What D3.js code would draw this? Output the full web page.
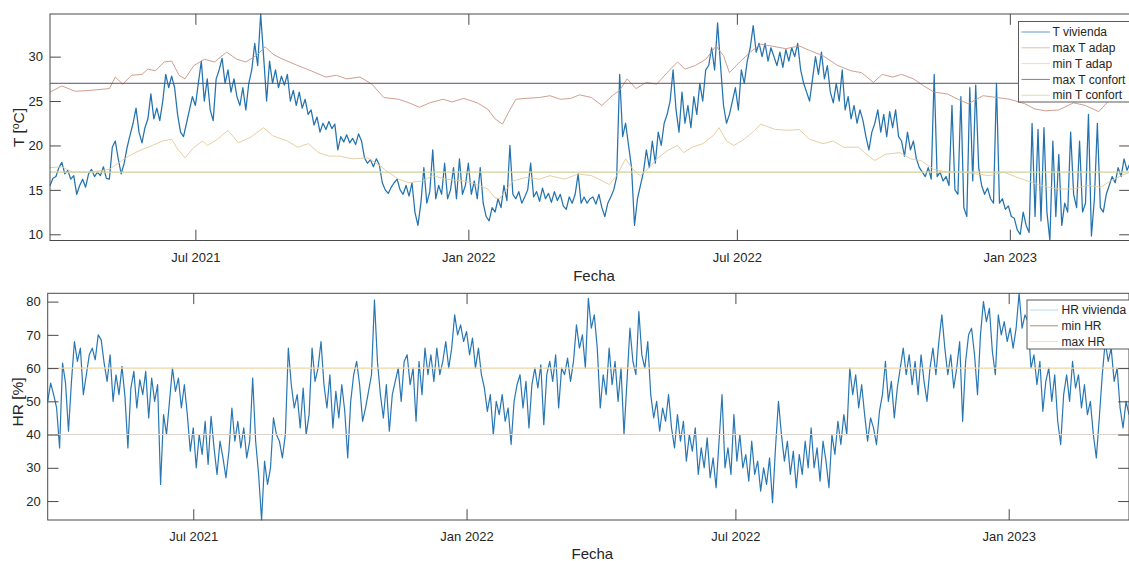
<!DOCTYPE html>
<html>
<head>
<meta charset="utf-8">
<script src="https://cdn.jsdelivr.net/npm/d3@7"></script>
<style>
  body { margin: 0; background: #fff; }
  svg { display: block; }
  text { font-family: "Liberation Sans", Arial, Helvetica, sans-serif; fill: #262626; }
</style>
</head>
<body>
<svg id="chart" width="1129" height="561"></svg>
<script>
// Series sampled every 2 days from 25 Mar 2021
const startDate = new Date(2021, 2, 25);
const stepDays = 2;

// Indoor temperature (°C)
const tVivienda = [
  15.5,16.3,16.5,17.5,18.1,16.8,17.2,16.2,16.6,14.5,
  15.5,16.2,15.3,16.8,17.3,16.5,17.0,16.6,17.6,16.3,
  16.2,19.8,20.5,18.5,16.8,18.0,19.8,21.2,22.5,24.2,
  21.5,20.3,22.0,23.0,25.8,23.0,24.2,22.8,25.0,28.0,
  26.5,27.8,26.5,23.5,21.5,21.0,22.5,24.0,25.5,24.5,
  27.0,29.5,25.0,27.5,24.0,22.8,27.5,28.5,29.8,27.0,
  28.5,26.0,27.5,25.5,24.5,26.5,24.0,27.0,28.5,31.5,
  29.0,34.8,30.0,25.0,29.5,27.0,28.5,26.5,27.8,26.8,
  28.0,25.0,26.2,24.5,26.0,24.2,25.2,23.5,24.0,22.3,
  23.2,21.5,22.5,21.8,22.7,21.9,22.4,19.5,21.0,20.4,
  21.2,20.3,20.8,20.1,21.3,20.5,18.6,18.0,18.4,17.6,
  18.5,17.8,15.8,15.0,14.6,15.3,15.8,16.2,15.0,14.5,
  15.5,14.3,15.8,12.5,11.0,13.5,17.5,13.5,14.8,19.5,
  14.0,15.5,14.5,18.0,14.0,15.0,17.5,14.0,18.5,14.5,
  15.5,18.0,14.5,16.0,14.0,17.5,13.5,12.0,11.5,13.0,
  12.5,14.0,13.0,15.5,13.8,20.0,14.5,14.0,14.8,13.5,
  14.2,15.0,18.0,14.2,14.8,13.7,15.2,14.0,14.6,13.6,
  14.8,13.8,14.5,13.2,12.8,14.2,13.5,14.5,16.8,13.5,
  14.2,13.5,14.0,14.2,13.4,14.5,13.0,12.0,13.5,14.2,
  15.0,16.5,28.0,21.0,22.5,20.0,17.5,11.0,14.0,15.5,
  17.0,19.5,17.5,20.5,18.0,21.5,20.0,22.5,23.5,25.0,
  28.5,24.0,21.5,26.0,22.5,24.5,22.0,25.5,23.5,27.0,
  25.0,28.5,29.0,31.0,28.5,33.8,29.0,24.5,22.5,23.5,
  25.0,26.5,24.0,28.5,27.0,29.5,31.0,33.5,30.5,31.5,
  30.0,31.5,29.5,31.0,30.0,29.0,30.5,28.8,30.8,29.5,
  31.0,30.0,31.5,28.5,27.0,26.0,25.0,27.5,30.0,28.0,
  30.5,27.5,29.0,26.0,24.8,27.0,25.0,28.5,24.0,25.5,
  23.0,24.5,22.5,24.0,22.8,21.0,19.5,21.5,22.5,24.0,
  21.5,23.5,21.0,23.8,22.0,24.0,21.0,20.5,18.8,21.5,
  19.5,20.5,18.5,17.5,17.0,16.5,17.5,16.2,28.0,16.5,
  17.0,16.0,16.5,15.5,24.5,15.0,14.5,25.5,13.0,12.0,
  26.5,16.0,26.8,17.5,15.5,14.5,15.2,14.0,13.5,27.0,
  13.5,14.0,12.8,13.2,12.0,11.8,10.5,10.0,12.5,11.0,
  10.2,22.5,12.0,21.8,11.5,22.0,12.5,9.3,20.5,12.0,
  19.0,11.0,13.5,12.5,21.5,14.5,13.0,20.5,12.5,13.5,
  23.5,9.8,14.0,22.5,13.0,12.5,14.5,15.5,16.5,15.8,
  17.5,16.5,18.5,17.2,18.0
];

// Indoor relative humidity (%)
const hrVivienda = [
  50.0,55.5,52.0,48.0,36.0,61.5,55.5,41.0,56.0,68.0,
  62.0,66.0,52.0,58.0,64.0,66.0,62.5,70.0,68.5,61.5,
  56.0,64.0,50.0,58.0,52.0,60.5,51.5,36.0,54.0,59.0,
  48.0,56.5,52.0,59.0,45.0,57.0,50.0,55.0,25.0,46.0,
  40.0,50.0,60.0,53.0,57.0,48.0,55.0,46.0,35.0,42.0,
  30.0,40.0,34.0,44.0,31.0,45.5,36.0,28.0,38.0,33.0,
  27.0,35.0,48.0,38.0,44.0,36.0,42.0,33.0,38.0,57.0,
  38.0,28.0,14.3,32.0,25.0,30.0,45.0,40.0,38.0,33.0,
  40.0,66.0,55.0,48.0,52.0,42.0,54.0,40.0,46.0,66.0,
  56.0,60.0,68.0,55.0,48.0,58.0,42.0,53.0,45.0,55.0,
  47.0,33.0,50.0,58.0,62.0,55.0,44.0,48.0,53.0,58.0,
  80.5,62.0,52.0,45.0,55.0,41.0,52.0,56.0,60.0,50.0,
  62.0,64.0,55.0,60.0,44.0,62.0,52.0,66.0,58.0,64.0,
  56.0,66.0,58.0,62.0,68.0,60.0,66.0,76.0,70.0,73.0,
  68.0,71.0,64.0,69.0,60.0,66.0,58.0,54.0,47.0,52.0,
  40.0,50.0,46.0,52.0,44.0,48.0,37.0,50.0,55.0,58.0,
  48.0,56.0,42.0,55.0,60.0,54.0,61.0,43.0,58.0,62.0,
  56.0,64.0,48.0,60.0,58.0,63.0,56.0,62.0,73.0,66.0,
  70.0,60.0,81.0,72.0,76.0,66.0,48.0,58.0,52.0,66.0,
  55.0,62.0,50.0,60.0,40.0,56.0,72.0,62.0,58.0,77.0,
  64.0,60.0,68.0,52.0,45.0,50.0,41.0,48.0,44.0,52.0,
  42.0,36.0,46.0,38.0,44.0,32.0,40.0,35.0,42.0,28.0,
  36.0,30.0,39.0,27.0,33.0,24.0,38.0,52.0,30.0,36.0,
  28.0,46.0,32.0,40.0,30.0,34.0,26.0,38.0,28.0,32.0,
  23.0,30.0,25.0,33.0,19.5,36.0,50.0,40.0,32.0,38.0,
  28.0,35.0,24.0,34.0,28.0,38.0,30.0,42.0,30.0,36.0,
  26.0,38.0,32.0,24.0,40.0,34.0,44.0,37.0,46.0,40.0,
  60.0,52.0,58.0,48.0,55.0,46.0,38.0,45.0,42.0,37.0,
  47.0,52.0,62.0,50.0,56.0,45.0,54.0,60.0,66.0,58.0,
  64.0,55.0,62.0,52.0,64.0,56.0,50.0,60.0,66.0,58.0,
  68.0,76.0,66.0,58.0,64.0,54.0,60.0,68.0,44.0,62.0,
  70.0,72.0,64.0,52.0,70.0,80.0,74.0,78.0,65.0,58.0,
  76.0,70.0,74.0,68.0,72.0,66.0,72.0,82.5,72.0,76.0,
  74.0,60.0,64.0,55.0,62.0,47.0,56.0,60.0,50.0,58.0,
  44.0,37.0,52.0,58.0,50.0,62.0,54.0,58.0,48.0,55.0,
  46.0,50.0,40.0,33.0,45.0,58.0,68.0,62.0,66.0,56.0,
  60.0,48.0,42.0,50.0,46.0
];

// Adaptive comfort limits (°C), sampled on the listed day offsets
const maxTAdapDays = [0,8,17,27,40,44,49,55,62,66,71,77,82,87,91,97,104,111,119,126,132,139,145,151,157,167,176,186,193,200,209,217,225,235,242,249,256,265,271,279,288,295,300,305,309,314,321,330,337,344,351,357,365,372,379,384,389,395,402,409,416,423,428,435,442,449,454,458,465,472,479,486,496,505,512,521,531,540,547,555,561,568,574,582,589,596,605,612,619,629,638,647,657,664,671,680,690,698,707,714,722,728];
const maxTAdap = [26.0,26.7,26.1,26.2,26.4,27.7,26.9,27.9,28.0,28.6,28.4,29.4,29.5,27.9,27.5,29.0,29.7,29.4,30.5,29.7,29.4,30.1,31.1,30.2,29.7,29.0,28.4,27.7,27.9,27.5,27.7,26.9,25.4,25.2,24.8,24.3,24.8,25.2,24.9,25.3,24.8,24.1,23.0,22.4,23.7,25.2,25.3,25.4,25.6,25.2,25.3,25.7,25.4,24.5,25.6,26.2,27.5,26.4,27.1,26.9,28.2,29.4,28.6,29.0,29.7,31.2,30.1,28.2,29.4,30.5,31.4,31.2,30.9,31.2,30.7,30.1,29.0,28.4,28.2,27.1,28.0,27.7,28.0,27.5,26.7,26.0,25.8,25.2,24.7,25.6,25.4,25.2,24.7,24.1,23.9,24.0,24.8,24.5,23.8,25.1,25.5,25.4];

const minTAdapDays = [0,8,15,27,40,45,53,60,69,76,82,86,91,97,103,106,113,120,127,135,144,150,160,167,174,181,188,195,204,214,221,228,235,242,251,258,267,279,288,295,300,303,312,321,330,337,347,356,365,370,377,382,388,393,398,405,409,416,423,427,433,440,447,451,456,461,468,475,479,489,498,505,512,521,528,535,545,549,556,563,573,580,587,596,605,615,624,633,643,652,659,666,673,680,690,699,708,715,722,728];
const minTAdap = [17.5,17.6,17.0,17.0,17.3,17.9,18.8,19.4,20.0,20.5,20.7,19.6,18.6,19.8,20.5,20.0,20.7,21.7,20.3,20.9,22.0,21.1,20.5,19.8,20.2,19.2,18.8,18.8,18.5,18.6,17.9,17.0,16.2,15.8,16.0,16.6,16.2,16.0,15.6,15.1,14.1,14.0,16.0,16.4,16.2,16.6,16.2,16.8,16.6,16.2,15.6,16.6,18.5,17.3,16.6,17.7,18.5,19.4,20.0,19.2,19.8,20.2,21.1,22.0,20.5,20.0,20.7,21.7,22.4,21.8,21.7,21.8,20.7,20.2,20.5,19.8,19.8,19.2,18.3,19.0,19.2,18.5,18.3,17.3,17.0,17.0,16.8,16.6,17.0,16.4,16.0,15.6,15.3,15.1,15.1,15.5,15.3,16.0,16.6,17.0];

// Fixed comfort bands
const maxTConfort = 27;
const minTConfort = 17;
const minHR = 40;
const maxHR = 60;

// Axis ticks
const xTickDates = ["2021-07-01", "2022-01-01", "2022-07-01", "2023-01-01"];
const tTicks = [10, 15, 20, 25, 30];
const hrTicks = [20, 30, 40, 50, 60, 70, 80];

const tLegend = ["T vivienda", "max T adap", "min T adap", "max T confort", "min T confort"];
const hrLegend = ["HR vivienda", "min HR", "max HR"];

// ---------------------------------------------------------------
const svg = d3.select("#chart");
const dayToDate = d => d3.timeDay.offset(startDate, d);
const series = vals => vals.map((v, i) => ({ date: dayToDate(i * stepDays), v }));
const pairs = (days, vals) => days.map((d, i) => ({ date: dayToDate(d), v: vals[i] }));
const endDate = dayToDate((tVivienda.length - 1) * stepDays);
const tickDates = xTickDates.map(s => d3.timeParse("%Y-%m-%d")(s));
const fmt = d3.timeFormat("%b %Y");

const frameColor = "#4a4a4a";
const tickLen = 10.8;

function panel(cfg) {
  const { left, right, top, bottom } = cfg;
  const x = d3.scaleTime().domain([startDate, endDate]).range([left, right]);
  const y = d3.scaleLinear().domain(cfg.yDomain).range([bottom, top]);
  const g = svg.append("g");

  const line = d3.line().x(d => x(d.date)).y(d => y(d.v));

  cfg.lines.forEach(l => {
    g.append("path")
      .datum(l.data)
      .attr("fill", "none")
      .attr("stroke", l.color)
      .attr("stroke-width", l.width)
      .attr("stroke-linejoin", "round")
      .attr("d", line);
  });

  // axes box
  g.append("rect")
    .attr("x", left).attr("y", top)
    .attr("width", right - left).attr("height", bottom - top)
    .attr("fill", "none").attr("stroke", frameColor).attr("stroke-width", 1);

  const styleAxis = sel => {
    sel.select(".domain").remove();
    sel.selectAll(".tick line").attr("stroke", frameColor);
    sel.selectAll(".tick text").attr("font-size", 13).attr("fill", "#262626")
      .attr("font-family", '"Liberation Sans", Arial, sans-serif');
  };

  g.append("g").attr("transform", `translate(0,${bottom})`)
    .call(d3.axisBottom(x).tickValues(tickDates).tickFormat(fmt)
      .tickSizeInner(-tickLen).tickSizeOuter(0).tickPadding(12))
    .call(styleAxis);
  g.append("g").attr("transform", `translate(0,${top})`)
    .call(d3.axisTop(x).tickValues(tickDates).tickFormat("")
      .tickSizeInner(-tickLen).tickSizeOuter(0))
    .call(styleAxis);
  g.append("g").attr("transform", `translate(${left},0)`)
    .call(d3.axisLeft(y).tickValues(cfg.yTicks).tickFormat(d3.format("d"))
      .tickSizeInner(-tickLen).tickSizeOuter(0).tickPadding(7))
    .call(styleAxis);
  g.append("g").attr("transform", `translate(${right},0)`)
    .call(d3.axisRight(y).tickValues(cfg.yTicks).tickFormat("")
      .tickSizeInner(-tickLen).tickSizeOuter(0))
    .call(styleAxis);

  // x label
  g.append("text")
    .attr("x", (left + right) / 2 + 4).attr("y", cfg.xLabelY)
    .attr("text-anchor", "middle").attr("font-size", 15)
    .text("Fecha");

  // y label
  const yl = g.append("text")
    .attr("transform", `translate(${cfg.yLabelX},${cfg.yLabelY}) rotate(-90)`)
    .attr("text-anchor", "middle").attr("font-size", 15.5);
  cfg.yLabel(yl);

  // legend
  const L = cfg.legend;
  g.append("rect")
    .attr("x", L.x).attr("y", L.y).attr("width", L.w).attr("height", L.h)
    .attr("fill", "#fff").attr("stroke", frameColor).attr("stroke-width", 0.9);
  L.items.forEach((name, i) => {
    const cy = L.y0 + i * L.dy;
    g.append("line")
      .attr("x1", L.lx1).attr("x2", L.lx2).attr("y1", cy).attr("y2", cy)
      .attr("stroke", L.colors[i]).attr("stroke-width", 1);
    g.append("text")
      .attr("x", L.tx).attr("y", cy).attr("dy", "0.35em")
      .attr("font-size", 12).text(name);
  });
  return { x, y };
}

// ---- Temperature panel ----
const tData = series(tVivienda);
panel({
  left: 50, right: 1130, top: 14, bottom: 240.5,
  yDomain: d3.extent(tVivienda),
  yTicks: tTicks,
  lines: [
    { data: tData, color: "#2473ae", width: 1.25 },
    { data: pairs(maxTAdapDays, maxTAdap), color: "#c99482", width: 0.9 },
    { data: pairs(minTAdapDays, minTAdap), color: "#e3c898", width: 0.9 },
    { data: [{ date: startDate, v: maxTConfort }, { date: endDate, v: maxTConfort }], color: "#5d4d6e", width: 1 },
    { data: [{ date: startDate, v: minTConfort }, { date: endDate, v: minTConfort }], color: "#cdd29e", width: 1.2 }
  ],
  xLabelY: 281,
  yLabelX: 24, yLabelY: 127.5,
  yLabel: t => {
    t.append("tspan").text("T [");
    t.append("tspan").attr("font-size", 10.5).attr("dy", "-0.5em").text("o");
    t.append("tspan").attr("dy", "0.35em").text("C]");
  },
  legend: {
    x: 1018.5, y: 21.5, w: 120, h: 80.5,
    y0: 32, dy: 15.8, lx1: 1021.5, lx2: 1050, tx: 1052.5,
    items: tLegend,
    colors: ["#5f9cc6", "#dcc2ae", "#eddfb4", "#857b94", "#dadbb2"]
  }
});

// ---- Humidity panel ----
const hrData = series(hrVivienda);
panel({
  left: 47.7, right: 1129, top: 293.3, bottom: 520,
  yDomain: d3.extent(hrVivienda),
  yTicks: hrTicks,
  lines: [
    { data: hrData, color: "#2877b2", width: 1.2 },
    { data: [{ date: startDate, v: minHR }, { date: endDate, v: minHR }], color: "#dcd3cc", width: 1.1 },
    { data: [{ date: startDate, v: maxHR }, { date: endDate, v: maxHR }], color: "#f0d4a6", width: 1.1 }
  ],
  xLabelY: 559,
  yLabelX: 23, yLabelY: 402,
  yLabel: t => t.text("HR [%]"),
  legend: {
    x: 1027, y: 300, w: 110, h: 49,
    y0: 310, dy: 15.8, lx1: 1030, lx2: 1058, tx: 1061.5,
    items: hrLegend,
    colors: ["#b6dbee", "#b68b7d", "#efe2a6"]
  }
});
</script>
</body>
</html>
